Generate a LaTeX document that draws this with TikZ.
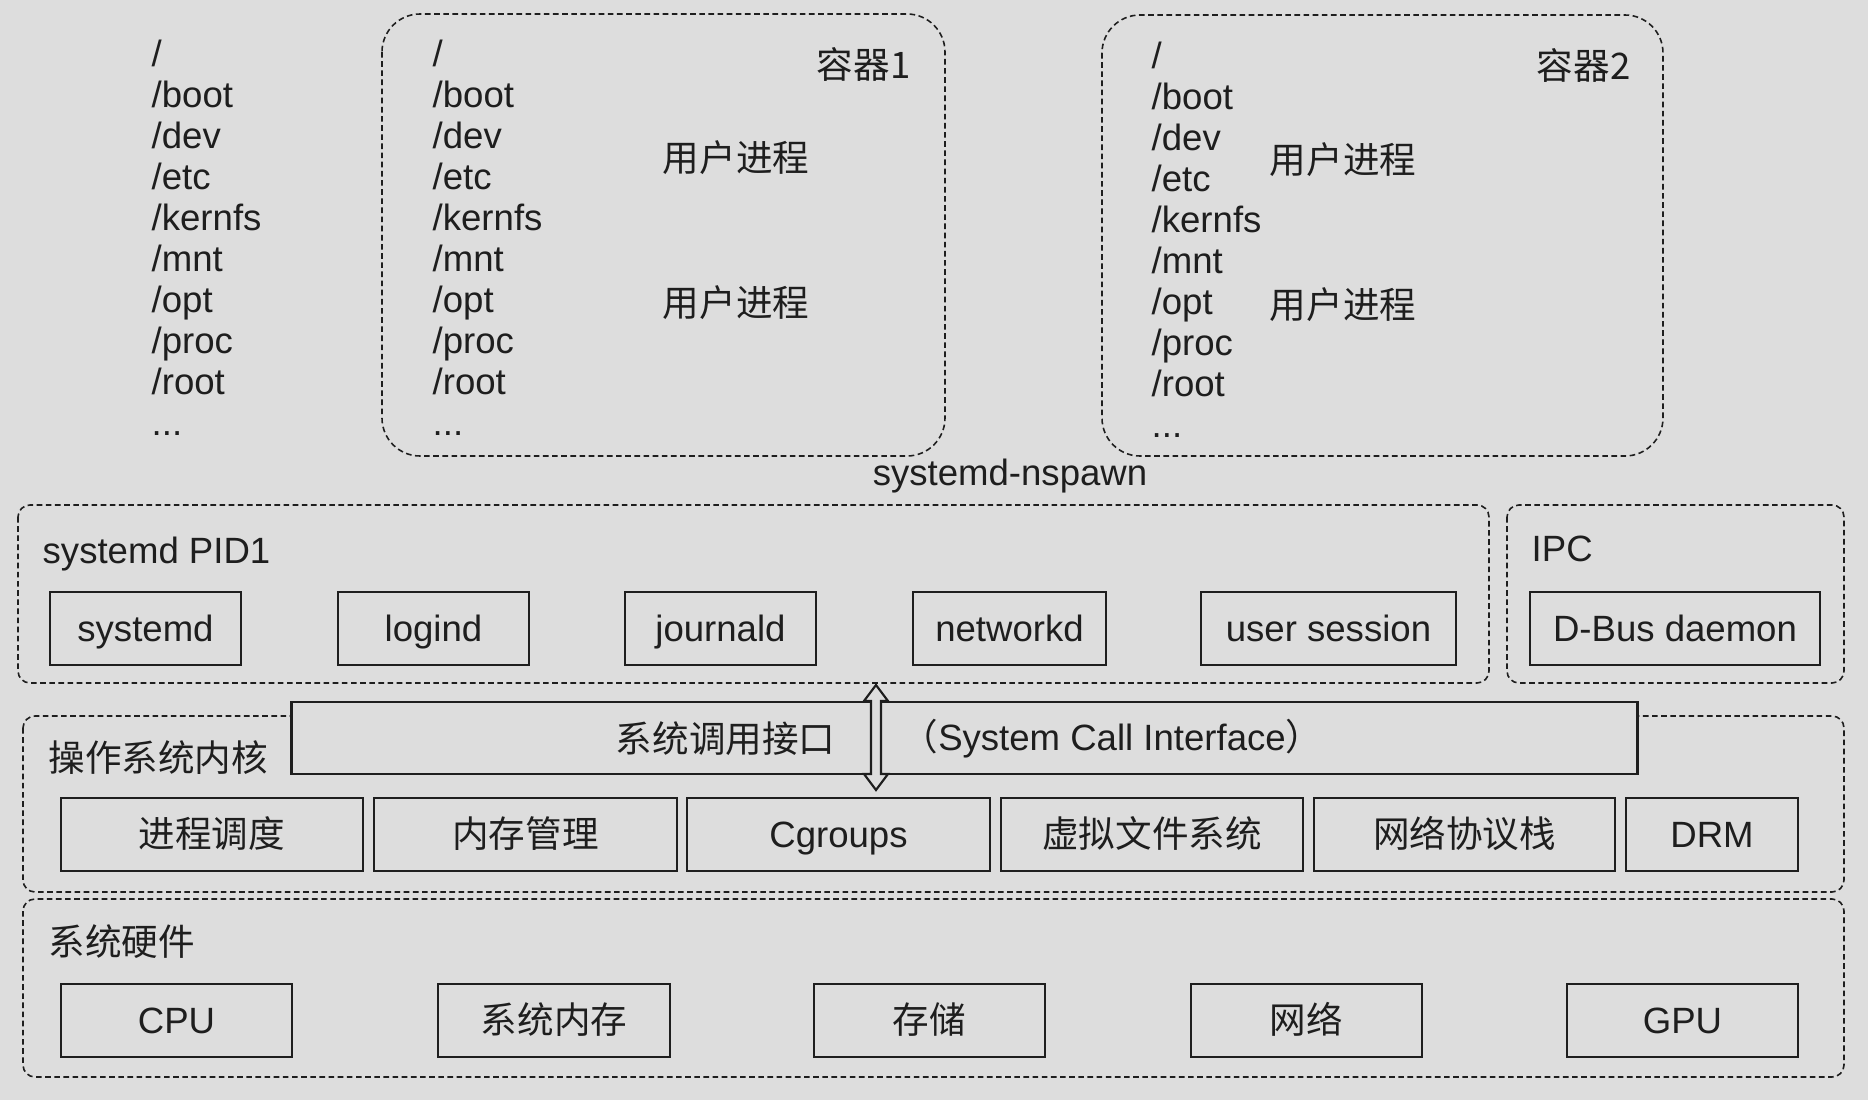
\documentclass[tikz,border=0pt]{standalone}
\usepackage{fontspec}
\setmainfont{Liberation Sans}
\newfontfamily\cjk{Noto Sans CJK SC}
\usetikzlibrary{calc}
\definecolor{bg}{RGB}{221,221,221}
\definecolor{ink}{RGB}{30,30,30}

\begin{document}
\begin{tikzpicture}[x=0.01cm,y=-0.01cm,text=ink,
  font=\fontsize{10.4}{12}\selectfont,
  grp/.style={draw=ink,line width=0.45pt,dash pattern=on 1.6pt off 1pt,rounded corners=0.12cm},
  cont/.style={grp,rounded corners=0.38cm},
  lbl/.style={inner sep=0pt},
  box/.style={draw=ink,line width=0.7pt,fill=bg,inner sep=0pt,minimum height=0.73cm,text height=7.4pt,text depth=0pt},
  dirs/.style={align=left,anchor=base west,inner sep=0pt,font=\fontsize{10.4}{11.65}\selectfont}]
\fill[bg] (0,0) rectangle (1868,1100);

\node[dirs] (hostfs) at (151,435) {/\\/boot\\/dev\\/etc\\/kernfs\\/mnt\\/opt\\/proc\\/root\\...};

\draw[cont] (382,14) rectangle (945,456);
\node[dirs] (c1fs) at (432,435) {/\\/boot\\/dev\\/etc\\/kernfs\\/mnt\\/opt\\/proc\\/root\\...};
\node[lbl,anchor=east] (c1name) at (911,64) {\cjk 容器1};
\node (c1pa) at (736,158) {\cjk 用户进程};
\node (c1pb) at (736,303) {\cjk 用户进程};

\draw[cont] (1102,15) rectangle (1663,456);
\node[dirs] (c2fs) at (1151,437) {/\\/boot\\/dev\\/etc\\/kernfs\\/mnt\\/opt\\/proc\\/root\\...};
\node[lbl,anchor=east] (c2name) at (1631,65) {\cjk 容器2};
\node (c2pa) at (1343,160) {\cjk 用户进程};
\node (c2pb) at (1343,305) {\cjk 用户进程};

\node (nspawn) at (1010,476) {systemd-nspawn};

\draw[grp] (18,505) rectangle (1489,683);
\node[lbl,anchor=west] (pidlbl) at (42,554) {systemd PID1};
\node[box,minimum width=1.91cm] (systemd) at (145.5,628.5) {systemd};
\node[box,minimum width=1.91cm] (logind) at (433.5,628.5) {logind};
\node[box,minimum width=1.91cm] (journald) at (720.5,628.5) {journald};
\node[box,minimum width=1.93cm] (networkd) at (1009.5,628.5) {networkd};
\node[box,minimum width=2.55cm] (usess) at (1328.5,628.5) {user session};

\draw[grp] (1507,505) rectangle (1844,683);
\node[lbl,anchor=west] (ipclbl) at (1531,549) {IPC};
\node[box,minimum width=2.90cm] (dbus) at (1675,628.5) {D-Bus daemon};

\draw[grp] (23,716) rectangle (1844,892);
\node[lbl,anchor=west] (kernlbl) at (48,758) {\cjk 操作系统内核};
\node[box,minimum width=13.45cm,minimum height=0.72cm] (sci) at (964.5,738) {};
\node[lbl,anchor=east] (scizh) at (836,739) {\cjk 系统调用接口};
\node[lbl,anchor=west] (scien) at (901,739) {{\cjk （}System Call Interface{\cjk ）}};
\node[box,minimum width=3.02cm] (sched) at (212,834.5) {\cjk 进程调度};
\node[box,minimum width=3.03cm] (memmgr) at (525.5,834.5) {\cjk 内存管理};
\node[box,minimum width=3.03cm] (cgroups) at (838.5,834.5) {Cgroups};
\node[box,minimum width=3.02cm] (vfs) at (1152,834.5) {\cjk 虚拟文件系统};
\node[box,minimum width=3.01cm] (netstack) at (1464.5,834.5) {\cjk 网络协议栈};
\node[box,minimum width=1.72cm] (drm) at (1712,834.5) {DRM};

\coordinate (atop) at (876,685);
\coordinate (abot) at (876,790);
\draw[ink,line width=0.6pt,fill=bg] (atop) -- ++(12,16) -- ++(-7,0) -- ($(abot)+(5,-16)$) -- ++(7,0) -- (abot)
  -- ++(-12,-16) -- ++(7,0) -- ($(atop)+(-5,16)$) -- ++(-7,0) -- cycle;

\draw[grp] (23,899) rectangle (1844,1077);
\node[lbl,anchor=west] (hwlbl) at (48,942) {\cjk 系统硬件};
\node[box,minimum width=2.31cm] (cpu) at (176.5,1020.5) {CPU};
\node[box,minimum width=2.32cm] (ram) at (554,1020.5) {\cjk 系统内存};
\node[box,minimum width=2.31cm] (disk) at (929.5,1020.5) {\cjk 存储};
\node[box,minimum width=2.31cm] (nic) at (1306.5,1020.5) {\cjk 网络};
\node[box,minimum width=2.31cm] (gpu) at (1682.5,1020.5) {GPU};
\end{tikzpicture}
\end{document}
